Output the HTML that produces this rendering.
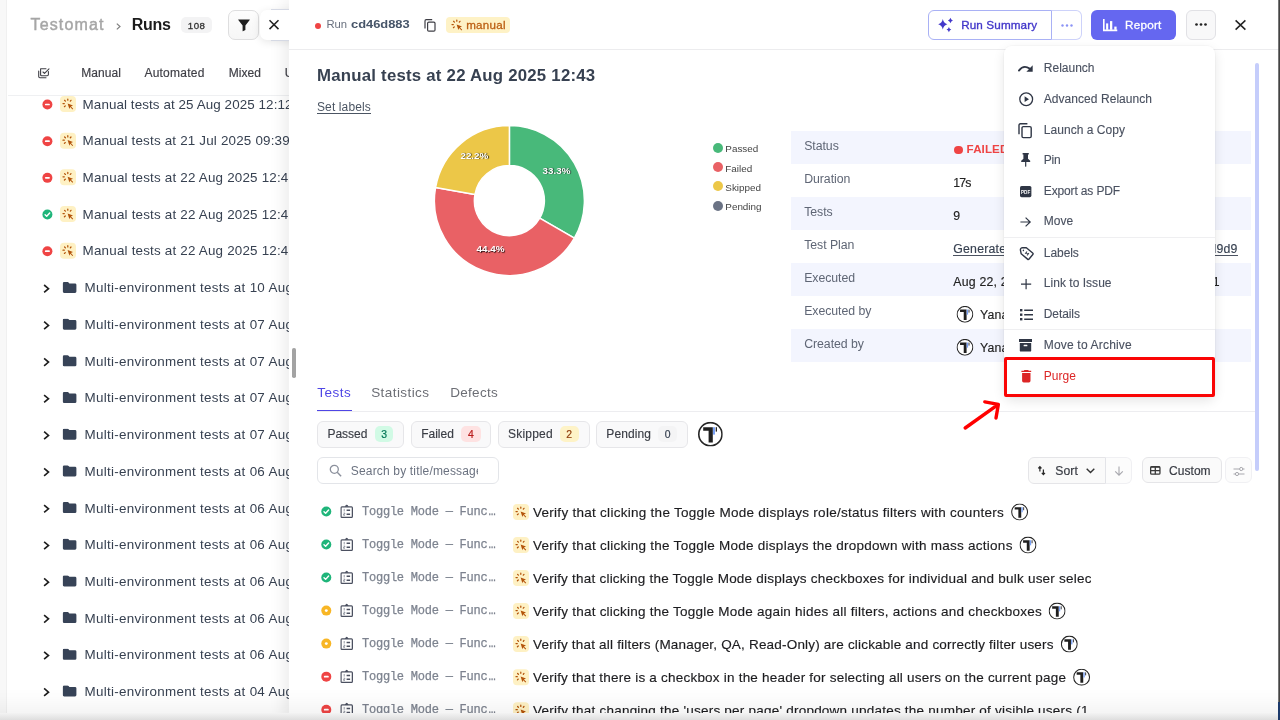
<!DOCTYPE html>
<html>
<head>
<meta charset="utf-8">
<title>Run</title>
<style>
*{box-sizing:border-box;margin:0;padding:0}
html,body{width:1280px;height:720px;overflow:hidden;background:#fff}
body{font-family:"Liberation Sans",sans-serif;color:#374151;position:relative;font-size:13px}
.abs{position:absolute}
.t{position:absolute;white-space:nowrap;line-height:1}
svg{position:absolute;overflow:visible}
/* left strip */
#strip{left:0;top:0;width:7px;height:720px;background:#f8f8f8;border-right:1px solid #f0f0f0}
/* left panel */
#left{left:8px;top:0;width:282px;height:720px;background:#fff;overflow:hidden}
#left .t{color:#374151}
.lrow{position:absolute;left:0;width:282px;height:20px}
.lrow .txt{position:absolute;left:74.6px;top:-0.2px;font-size:13.4px;line-height:20px;white-space:nowrap;color:#374151;letter-spacing:0.17px}
.lrow .ftxt{position:absolute;left:76.5px;top:0.35px;font-size:13.4px;line-height:20px;white-space:nowrap;color:#374151;letter-spacing:0.3px}
.dot{position:absolute;width:10px;height:10px;border-radius:50%}
.dot.red{background:#ef4444}
.dot.green{background:#22b573}
.dot.yellow{background:#f5b324}
.dot.red:after{content:"";position:absolute;left:2.5px;top:4.1px;width:5px;height:1.8px;background:#fff;border-radius:0.9px}
.mbox{position:absolute;width:16px;height:16px;border-radius:4px;background:#fef1c4}
/* right panel */
#right{left:289px;top:0;width:991px;height:720px;background:#fff;box-shadow:-6px 0 14px rgba(0,0,0,0.07)}
#hdr{left:0;top:0;width:991px;height:50px;border-bottom:1px solid #ececee}
.btn{position:absolute;border:1px solid #d9dade;border-radius:6px;background:#fafafa}
.trow{position:absolute;left:502px;width:460px;height:33px}
.trow.alt{background:#f3f5fe}
.trow .k{position:absolute;left:13px;top:8px;font-size:13px;line-height:16px;color:#52586a}
.trow .v{position:absolute;left:162px;top:9px;font-size:12.5px;line-height:16px;color:#1f2937}
.chip{position:absolute;top:421px;height:26px;border:1px solid #e6e6e9;border-radius:6px;background:#f9f9fa}
.chip .l{position:absolute;left:10px;top:5px;font-size:13px;line-height:15px;color:#374151}
.chip .n{position:absolute;top:4px;height:17px;width:19px;border-radius:4px;font-size:11px;line-height:17px;text-align:center}
.test{position:absolute;left:0;width:991px;height:20px}
.test .mono{position:absolute;left:72px;top:2px;font-family:"Liberation Mono",monospace;font-size:12.2px;line-height:16px;color:#7b8190;white-space:pre;letter-spacing:-0.28px}
.test .ttl{position:absolute;left:243px;top:0;font-size:14.4px;line-height:20px;color:#1f2430;white-space:nowrap;letter-spacing:-0.12px}
/* menu */
#menu{left:1004.3px;top:45.5px;width:211px;height:351.5px;background:#fff;border-radius:8px;box-shadow:0 4px 12px rgba(0,0,0,0.10),0 0 0 1px rgba(0,0,0,0.025)}
.mi{position:absolute;left:39px;font-size:13px;line-height:16px;color:#4a5160;-webkit-text-stroke:0.12px #4a5160;white-space:nowrap}
</style>
</head>
<body>
<svg width="0" height="0" style="position:absolute"><defs>
<symbol id="man" viewBox="0 0 16 16"><g stroke="#b4540a" stroke-width="1.25" stroke-linecap="round" fill="none"><path d="M7.8 3 V4.2 M4.6 4.3 L5.4 5.1 M3 7.5 H4.3 M4.4 10.7 L5.3 9.9 M11 4.3 L10.3 5.1"/></g><path d="M7.6 7.4 L13 9.4 L10.9 10.4 L13.2 12.7 L12.5 13.4 L10.2 11.1 L9.4 13.1 Z" fill="#b4540a"/></symbol>
<symbol id="chev" viewBox="0 0 8 10"><path d="M1.5 1.3 L5.9 5 L1.5 8.7" fill="none" stroke="#1f1f1f" stroke-width="1.65"/></symbol>
<symbol id="fold" viewBox="0 0 15 12"><path d="M1.8 0.3 H5.2 Q5.8 0.3 6.2 0.8 L7 1.7 H12.6 Q14 1.7 14 3.1 V9.9 Q14 11.3 12.6 11.3 H1.8 Q0.4 11.3 0.4 9.9 V1.7 Q0.4 0.3 1.8 0.3Z" fill="#374357"/></symbol>
<symbol id="tav" viewBox="0 0 24.8 24.8"><circle cx="12.4" cy="12.4" r="11.6" fill="#fff" stroke="#262626" stroke-width="1.6"/><path d="M5.2 5.4 H14.8 V20.7 H10.6 V8.9 H5.2Z" fill="#1f1f1f"/><rect x="15" y="5.4" width="2" height="7.4" fill="#7aa2f7"/><rect x="17.7" y="5.4" width="1.3" height="4.4" fill="#262626"/></symbol>
<symbol id="clip" viewBox="0 0 14 16"><rect x="0.85" y="2.8" width="11.3" height="10.5" rx="0.9" fill="none" stroke="#4b5060" stroke-width="1.25"/><path d="M4.6 2.8 L5.6 1.1 Q6.5 0.2 7.4 1.1 L8.4 2.8Z" fill="#4b5060"/><path d="M6.4 6.3 H9.9 M6.4 10.2 H9.9" stroke="#4b5060" stroke-width="1.5" fill="none"/><path d="M4 4.9 V7.4 M3.4 9 H4.6 V10.1 H3.4 V11.3 H4.7" stroke="#7a7f8c" stroke-width="0.8" fill="none"/></symbol>
</defs></svg>
<div id="all" class="abs" style="left:0;top:0;width:1280px;height:720px;will-change:transform">
<div id="strip" class="abs"></div>
<div id="left" class="abs">
<div class="t" style="left:22.5px;top:15px;font-size:16px;line-height:19px;color:#a6a6a6;letter-spacing:1.15px;-webkit-text-stroke:0.45px #a6a6a6">Testomat</div>
<svg style="left:107.5px;top:22.5px" width="5" height="7" viewBox="0 0 5 7"><path d="M0.8 0.6 L4 3.5 L0.8 6.4" fill="none" stroke="#808080" stroke-width="1.2"/></svg>
<div class="t" style="left:123.7px;top:15px;font-size:16px;line-height:19px;color:#1c1c1c;font-weight:700;letter-spacing:-0.3px">Runs</div>
<div class="abs" style="left:173.2px;top:16.8px;width:30.8px;height:16.1px;border-radius:5px;background:#f3f3f4"></div>
<div class="t" style="left:179.8px;top:19.6px;font-size:9.7px;line-height:11px;color:#333;-webkit-text-stroke:0.3px #333;letter-spacing:0.5px">108</div>
<div class="abs" style="left:220.2px;top:10px;width:30.4px;height:30px;border:1px solid #dededf;border-radius:7px;background:linear-gradient(#fdfdfd,#f6f6f6)"></div>
<svg style="left:229.5px;top:18.7px" width="12" height="12.5" viewBox="0 0 12 12.5"><path d="M0.4 0.5 H11.6 Q12 0.5 11.7 1 L7.4 6.4 V11 L4.9 12.2 Q4.6 12.3 4.6 12 V6.4 L0.3 1 Q0 0.5 0.4 0.5Z" fill="#1f1f1f"/></svg>
<!-- tabs -->
<svg style="left:29.5px;top:67.5px" width="12" height="11" viewBox="0 0 12 11"><path d="M2.6 0.8 H8 M10.4 3.6 V6.6 Q10.4 7.8 9.2 7.8 H3.6 Q2.6 7.8 2.6 6.8 V0.8 M5 4 L6.5 5.4 L11 0.9 M0.7 3 V8.6 Q0.7 9.8 1.9 9.8 H8" fill="none" stroke="#3f3f46" stroke-width="1.1" stroke-linejoin="round" stroke-linecap="round"/></svg>
<div class="t" style="left:73.2px;top:66px;font-size:12px;line-height:14px;-webkit-text-stroke:0.18px #3f3f46;color:#3f3f46;letter-spacing:0.05px">Manual</div>
<div class="t" style="left:136.4px;top:66px;font-size:12px;line-height:14px;-webkit-text-stroke:0.18px #3f3f46;color:#3f3f46;letter-spacing:0.24px">Automated</div>
<div class="t" style="left:220.7px;top:66px;font-size:12px;line-height:14px;-webkit-text-stroke:0.18px #3f3f46;color:#3f3f46;letter-spacing:0.08px">Mixed</div>
<div class="t" style="left:276.8px;top:66px;font-size:12px;line-height:14px;-webkit-text-stroke:0.18px #3f3f46;color:#3f3f46">Unfinished</div>
<div class="abs" style="left:0;top:95px;width:282px;height:1px;background:#eff0f2"></div>
<svg style="left:34px;top:99px" width="12" height="12"><g transform="translate(0.40 0.50) scale(1.0000 1.0000)"><circle cx="5" cy="5" r="5" fill="#ef4444"/><rect x="2.5" y="4.15" width="5" height="1.7" rx="0.85" fill="#fff"/></g></svg>
<svg style="left:52px;top:96px" width="17" height="17"><g transform="translate(0.00 0.00) scale(1.0000 1.0000)"><rect x="0" y="0" width="16" height="16" rx="4" fill="#fef1c4"/><use href="#man" x="0" y="0" width="16" height="16"/></g></svg>
<div class="lrow" style="top:94.7px"><div class="txt" style="letter-spacing:0.09px">Manual tests at 25 Aug 2025 12:12</div></div>
<svg style="left:34px;top:136px" width="12" height="12"><g transform="translate(0.40 0.18) scale(1.0000 1.0000)"><circle cx="5" cy="5" r="5" fill="#ef4444"/><rect x="2.5" y="4.15" width="5" height="1.7" rx="0.85" fill="#fff"/></g></svg>
<svg style="left:52px;top:132px" width="17" height="18"><g transform="translate(0.00 0.68) scale(1.0000 1.0000)"><rect x="0" y="0" width="16" height="16" rx="4" fill="#fef1c4"/><use href="#man" x="0" y="0" width="16" height="16"/></g></svg>
<div class="lrow" style="top:131.4px"><div class="txt" style="letter-spacing:0.19px">Manual tests at 21 Jul 2025 09:39</div></div>
<svg style="left:34px;top:172px" width="12" height="12"><g transform="translate(0.40 0.86) scale(1.0000 1.0000)"><circle cx="5" cy="5" r="5" fill="#ef4444"/><rect x="2.5" y="4.15" width="5" height="1.7" rx="0.85" fill="#fff"/></g></svg>
<svg style="left:52px;top:169px" width="17" height="18"><g transform="translate(0.00 0.36) scale(1.0000 1.0000)"><rect x="0" y="0" width="16" height="16" rx="4" fill="#fef1c4"/><use href="#man" x="0" y="0" width="16" height="16"/></g></svg>
<div class="lrow" style="top:168.1px"><div class="txt" style="letter-spacing:0.2px">Manual tests at 22 Aug 2025 12:43</div></div>
<svg style="left:34px;top:209px" width="12" height="12"><g transform="translate(0.40 0.54) scale(1.0000 1.0000)"><circle cx="5" cy="5" r="5" fill="#1fb57a"/><path d="M2.7 5.2 L4.3 6.8 L7.3 3.5" fill="none" stroke="#fff" stroke-width="1.4" stroke-linecap="round" stroke-linejoin="round"/></g></svg>
<svg style="left:52px;top:206px" width="17" height="18"><g transform="translate(0.00 0.04) scale(1.0000 1.0000)"><rect x="0" y="0" width="16" height="16" rx="4" fill="#fef1c4"/><use href="#man" x="0" y="0" width="16" height="16"/></g></svg>
<div class="lrow" style="top:204.7px"><div class="txt" style="letter-spacing:0.2px">Manual tests at 22 Aug 2025 12:43</div></div>
<svg style="left:34px;top:246px" width="12" height="12"><g transform="translate(0.40 0.22) scale(1.0000 1.0000)"><circle cx="5" cy="5" r="5" fill="#ef4444"/><rect x="2.5" y="4.15" width="5" height="1.7" rx="0.85" fill="#fff"/></g></svg>
<svg style="left:52px;top:242px" width="17" height="18"><g transform="translate(0.00 0.72) scale(1.0000 1.0000)"><rect x="0" y="0" width="16" height="16" rx="4" fill="#fef1c4"/><use href="#man" x="0" y="0" width="16" height="16"/></g></svg>
<div class="lrow" style="top:241.4px"><div class="txt" style="letter-spacing:0.2px">Manual tests at 22 Aug 2025 12:43</div></div>
<svg style="left:34px;top:283px" width="10" height="12"><g transform="translate(0.60 0.70) scale(1.0000 1.0000)"><use href="#chev" x="0" y="0" width="8" height="10"/></g></svg>
<svg style="left:54px;top:281px" width="17" height="14"><g transform="translate(0.40 0.70) scale(1.0000 1.0000)"><use href="#fold" x="0" y="0" width="15" height="12"/></g></svg>
<div class="lrow" style="top:278.1px"><div class="ftxt">Multi-environment tests at 10 Aug 2025</div></div>
<svg style="left:34px;top:320px" width="10" height="12"><g transform="translate(0.60 0.38) scale(1.0000 1.0000)"><use href="#chev" x="0" y="0" width="8" height="10"/></g></svg>
<svg style="left:54px;top:318px" width="17" height="14"><g transform="translate(0.40 0.38) scale(1.0000 1.0000)"><use href="#fold" x="0" y="0" width="15" height="12"/></g></svg>
<div class="lrow" style="top:314.8px"><div class="ftxt">Multi-environment tests at 07 Aug 2025</div></div>
<svg style="left:34px;top:357px" width="10" height="12"><g transform="translate(0.60 0.06) scale(1.0000 1.0000)"><use href="#chev" x="0" y="0" width="8" height="10"/></g></svg>
<svg style="left:54px;top:355px" width="17" height="14"><g transform="translate(0.40 0.06) scale(1.0000 1.0000)"><use href="#fold" x="0" y="0" width="15" height="12"/></g></svg>
<div class="lrow" style="top:351.5px"><div class="ftxt">Multi-environment tests at 07 Aug 2025</div></div>
<svg style="left:34px;top:393px" width="10" height="12"><g transform="translate(0.60 0.74) scale(1.0000 1.0000)"><use href="#chev" x="0" y="0" width="8" height="10"/></g></svg>
<svg style="left:54px;top:391px" width="17" height="14"><g transform="translate(0.40 0.74) scale(1.0000 1.0000)"><use href="#fold" x="0" y="0" width="15" height="12"/></g></svg>
<div class="lrow" style="top:388.1px"><div class="ftxt">Multi-environment tests at 07 Aug 2025</div></div>
<svg style="left:34px;top:430px" width="10" height="12"><g transform="translate(0.60 0.42) scale(1.0000 1.0000)"><use href="#chev" x="0" y="0" width="8" height="10"/></g></svg>
<svg style="left:54px;top:428px" width="17" height="14"><g transform="translate(0.40 0.42) scale(1.0000 1.0000)"><use href="#fold" x="0" y="0" width="15" height="12"/></g></svg>
<div class="lrow" style="top:424.8px"><div class="ftxt">Multi-environment tests at 07 Aug 2025</div></div>
<svg style="left:34px;top:467px" width="10" height="12"><g transform="translate(0.60 0.10) scale(1.0000 1.0000)"><use href="#chev" x="0" y="0" width="8" height="10"/></g></svg>
<svg style="left:54px;top:465px" width="17" height="14"><g transform="translate(0.40 0.10) scale(1.0000 1.0000)"><use href="#fold" x="0" y="0" width="15" height="12"/></g></svg>
<div class="lrow" style="top:461.5px"><div class="ftxt">Multi-environment tests at 06 Aug 2025</div></div>
<svg style="left:34px;top:503px" width="10" height="12"><g transform="translate(0.60 0.78) scale(1.0000 1.0000)"><use href="#chev" x="0" y="0" width="8" height="10"/></g></svg>
<svg style="left:54px;top:501px" width="17" height="14"><g transform="translate(0.40 0.78) scale(1.0000 1.0000)"><use href="#fold" x="0" y="0" width="15" height="12"/></g></svg>
<div class="lrow" style="top:498.2px"><div class="ftxt">Multi-environment tests at 06 Aug 2025</div></div>
<svg style="left:34px;top:540px" width="10" height="12"><g transform="translate(0.60 0.46) scale(1.0000 1.0000)"><use href="#chev" x="0" y="0" width="8" height="10"/></g></svg>
<svg style="left:54px;top:538px" width="17" height="14"><g transform="translate(0.40 0.46) scale(1.0000 1.0000)"><use href="#fold" x="0" y="0" width="15" height="12"/></g></svg>
<div class="lrow" style="top:534.9px"><div class="ftxt">Multi-environment tests at 06 Aug 2025</div></div>
<svg style="left:34px;top:577px" width="10" height="12"><g transform="translate(0.60 0.14) scale(1.0000 1.0000)"><use href="#chev" x="0" y="0" width="8" height="10"/></g></svg>
<svg style="left:54px;top:575px" width="17" height="14"><g transform="translate(0.40 0.14) scale(1.0000 1.0000)"><use href="#fold" x="0" y="0" width="15" height="12"/></g></svg>
<div class="lrow" style="top:571.5px"><div class="ftxt">Multi-environment tests at 06 Aug 2025</div></div>
<svg style="left:34px;top:613px" width="10" height="12"><g transform="translate(0.60 0.82) scale(1.0000 1.0000)"><use href="#chev" x="0" y="0" width="8" height="10"/></g></svg>
<svg style="left:54px;top:611px" width="17" height="14"><g transform="translate(0.40 0.82) scale(1.0000 1.0000)"><use href="#fold" x="0" y="0" width="15" height="12"/></g></svg>
<div class="lrow" style="top:608.2px"><div class="ftxt">Multi-environment tests at 06 Aug 2025</div></div>
<svg style="left:34px;top:650px" width="10" height="12"><g transform="translate(0.60 0.50) scale(1.0000 1.0000)"><use href="#chev" x="0" y="0" width="8" height="10"/></g></svg>
<svg style="left:54px;top:648px" width="17" height="14"><g transform="translate(0.40 0.50) scale(1.0000 1.0000)"><use href="#fold" x="0" y="0" width="15" height="12"/></g></svg>
<div class="lrow" style="top:644.9px"><div class="ftxt">Multi-environment tests at 06 Aug 2025</div></div>
<svg style="left:34px;top:687px" width="10" height="12"><g transform="translate(0.60 0.18) scale(1.0000 1.0000)"><use href="#chev" x="0" y="0" width="8" height="10"/></g></svg>
<svg style="left:54px;top:685px" width="17" height="14"><g transform="translate(0.40 0.18) scale(1.0000 1.0000)"><use href="#fold" x="0" y="0" width="15" height="12"/></g></svg>
<div class="lrow" style="top:681.6px"><div class="ftxt">Multi-environment tests at 04 Aug 2025</div></div>
</div>
<div id="right" class="abs">
<div id="hdr" class="abs"></div>
</div>
<div class="abs" style="left:0;top:0;width:289.3px;height:60px;overflow:hidden">
<div class="abs" style="left:259.5px;top:10px;width:40px;height:30px;border-radius:7px;background:#fff;box-shadow:0 2px 8px rgba(0,0,0,0.10)"></div>
<div class="abs" style="left:271px;top:9.3px;width:20px;height:31.6px;border-top:1px solid #d5d9e4;border-bottom:1px solid #d5d9e4"></div>
<svg style="left:269.1px;top:20.3px" width="10" height="9.4" viewBox="0 0 10 9.4"><path d="M0.5 0.3 L9.5 9.1 M9.5 0.3 L0.5 9.1" stroke="#222" stroke-width="1.5" fill="none"/></svg>
</div>
<div class="abs" style="left:292.1px;top:348.2px;width:3.6px;height:29.8px;border-radius:1.8px;background:#a3a3a3"></div>
<div id="rc" class="abs" style="left:0;top:0;width:1280px;height:720px">
<!-- header -->
<div class="abs" style="left:315px;top:22.7px;width:6px;height:6px;border-radius:50%;background:#ef4444"></div>
<div class="t" style="left:326.4px;top:18.2px;font-size:11.3px;line-height:13px;color:#6b7280;letter-spacing:-0.1px">Run</div>
<div class="t" style="left:350.7px;top:18.2px;font-size:11.4px;line-height:13px;color:#475569;font-weight:700;transform:scaleX(1.13);transform-origin:0 0">cd46d883</div>
<svg style="left:424px;top:18.5px" width="12" height="13" viewBox="0 0 12 13"><path d="M8.2 0.7 H2.2 Q1 0.7 1 1.9 V9.6" fill="none" stroke="#3f3f46" stroke-width="1.2"/><rect x="3.6" y="3.1" width="7.4" height="9" rx="1.2" fill="none" stroke="#3f3f46" stroke-width="1.2"/></svg>
<div class="abs" style="left:446px;top:16.7px;width:64px;height:16px;border-radius:4px;background:#fef2c6"></div>
<svg style="left:449px;top:16.7px" width="16" height="16" viewBox="0 0 16 16"><use href="#man"/></svg>
<div class="t" style="left:466.2px;top:18px;font-size:11.6px;line-height:13px;color:#bb5e12;-webkit-text-stroke:0.3px #bb5e12;letter-spacing:0.25px">manual</div>
<!-- run summary -->
<div class="abs" style="left:928px;top:10px;width:124px;height:29.5px;border:1px solid #a9b1f5;border-radius:6px 0 0 6px;background:#fff"></div>
<div class="abs" style="left:1051px;top:10px;width:30.5px;height:29.5px;border:1px solid #cdd2fa;border-left:1px solid #a9b1f5;border-radius:0 6px 6px 0;background:#fff"></div>
<svg style="left:938px;top:18px" width="16" height="15" viewBox="0 0 16 15"><path d="M4.80 1.05 Q5.72 5.21 9.40 6.25 Q5.72 7.29 4.80 11.45 Q3.88 7.29 0.20 6.25 Q3.88 5.21 4.80 1.05Z M12.40 -0.20 Q12.95 1.91 14.90 2.50 Q12.95 3.09 12.40 5.20 Q11.85 3.09 9.90 2.50 Q11.85 1.91 12.40 -0.20Z M10.90 9.00 Q11.43 11.03 13.30 11.60 Q11.43 12.17 10.90 14.20 Q10.37 12.17 8.50 11.60 Q10.37 11.03 10.90 9.00Z" fill="#4338ca"/></svg>
<div class="t" style="left:961.2px;top:18.2px;font-size:11.7px;line-height:14px;color:#4338ca;-webkit-text-stroke:0.35px #4338ca;letter-spacing:0.12px">Run Summary</div>
<svg style="left:1060.5px;top:23.5px" width="12" height="3" viewBox="0 0 12 3"><circle cx="1.5" cy="1.5" r="1.2" fill="#8b93f5"/><circle cx="6" cy="1.5" r="1.2" fill="#8b93f5"/><circle cx="10.5" cy="1.5" r="1.2" fill="#8b93f5"/></svg>
<!-- report -->
<div class="abs" style="left:1091px;top:10px;width:85px;height:29.5px;border-radius:6px;background:#6567f0"></div>
<svg style="left:1102.6px;top:18.8px" width="14.4" height="12.2" viewBox="0 0 14.4 12.2"><path d="M0.8 0 V11.4 H14.3" fill="none" stroke="#fff" stroke-width="1.6"/><rect x="3.1" y="4.4" width="2.1" height="6.4" fill="#fff"/><rect x="7" y="2.1" width="2.3" height="8.7" fill="#fff"/><rect x="11.3" y="7.6" width="2.3" height="3.2" fill="#fff"/></svg>
<div class="t" style="left:1125px;top:18.2px;font-size:11.7px;line-height:14px;color:#fff;-webkit-text-stroke:0.3px #fff;letter-spacing:0.25px">Report</div>
<div class="abs" style="left:1185.5px;top:10px;width:30px;height:29.5px;border:1px solid #e1e1e5;border-radius:6px;background:#f8f8f9"></div>
<svg style="left:1194.5px;top:23.3px" width="12" height="3" viewBox="0 0 12 3"><circle cx="1.5" cy="1.5" r="1.35" fill="#222"/><circle cx="6" cy="1.5" r="1.35" fill="#222"/><circle cx="10.5" cy="1.5" r="1.35" fill="#222"/></svg>
<svg style="left:1235px;top:20px" width="11" height="10" viewBox="0 0 11 10"><path d="M0.6 0.4 L10.4 9.6 M10.4 0.4 L0.6 9.6" stroke="#222" stroke-width="1.5" fill="none"/></svg>
<!-- title -->
<div class="t" style="left:317px;top:66.3px;font-size:16.8px;line-height:20px;color:#374151;font-weight:700;letter-spacing:0.23px">Manual tests at 22 Aug 2025 12:43</div>
<div class="t" style="left:317px;top:99.5px;font-size:12px;line-height:14px;color:#4b5563;letter-spacing:0.12px">Set labels</div>
<div class="abs" style="left:317px;top:113px;width:54px;height:1px;background:#4b5563"></div>
<svg style="left:0;top:0" width="1280" height="720" viewBox="0 0 1280 720">
<path d="M509.40 125.60 A75 75 0 0 1 574.35 238.10 L539.71 218.10 A35 35 0 0 0 509.40 165.60Z" fill="#48b97a" stroke="#fff" stroke-width="1.5" stroke-linejoin="round"/>
<path d="M574.35 238.10 A75 75 0 0 1 435.54 187.58 L474.93 194.52 A35 35 0 0 0 539.71 218.10Z" fill="#e96165" stroke="#fff" stroke-width="1.5" stroke-linejoin="round"/>
<path d="M435.54 187.58 A75 75 0 0 1 509.40 125.60 L509.40 165.60 A35 35 0 0 0 474.93 194.52Z" fill="#ecc748" stroke="#fff" stroke-width="1.5" stroke-linejoin="round"/>
<text x="556.6" y="173.6" text-anchor="middle" font-family="Liberation Sans" font-weight="700" font-size="9.9" fill="#fff" style="text-shadow:0.8px 0.8px 1px rgba(0,0,0,0.8)">33.3%</text>
<text x="490.6" y="252" text-anchor="middle" font-family="Liberation Sans" font-weight="700" font-size="9.9" fill="#fff" style="text-shadow:0.8px 0.8px 1px rgba(0,0,0,0.8)">44.4%</text>
<text x="474.4" y="158.7" text-anchor="middle" font-family="Liberation Sans" font-weight="700" font-size="9.9" fill="#fff" style="text-shadow:0.8px 0.8px 1px rgba(0,0,0,0.8)">22.2%</text>
</svg>
<div class="abs" style="left:712.7px;top:142.6px;width:10px;height:10px;border-radius:50%;background:#48b97a"></div>
<div class="t" style="left:725.3px;top:0;transform:translateY(143.40px);font-size:9.9px;line-height:11px;color:#444">Passed</div>
<div class="abs" style="left:712.7px;top:161.9px;width:10px;height:10px;border-radius:50%;background:#e96165"></div>
<div class="t" style="left:725.3px;top:0;transform:translateY(162.73px);font-size:9.9px;line-height:11px;color:#444">Failed</div>
<div class="abs" style="left:712.7px;top:181.3px;width:10px;height:10px;border-radius:50%;background:#ecc748"></div>
<div class="t" style="left:725.3px;top:0;transform:translateY(182.06px);font-size:9.9px;line-height:11px;color:#444">Skipped</div>
<div class="abs" style="left:712.7px;top:200.6px;width:10px;height:10px;border-radius:50%;background:#6b7385"></div>
<div class="t" style="left:725.3px;top:0;transform:translateY(201.39px);font-size:9.9px;line-height:11px;color:#444">Pending</div>
<div class="trow alt" style="left:791px;top:131px"></div>
<div class="t" style="left:804.2px;top:138.9px;font-size:12.3px;line-height:14px;color:#5f6675;letter-spacing:-0.05px">Status</div>
<div class="abs" style="left:954.3px;top:145.7px;width:8.4px;height:8.4px;border-radius:50%;background:#ef4444"></div>
<div class="t" style="left:966.6px;top:142.2px;font-size:11.6px;line-height:13px;color:#ef4444;font-weight:700;letter-spacing:0.1px">FAILED</div>
<div class="trow" style="left:791px;top:164px"></div>
<div class="t" style="left:804.2px;top:171.9px;font-size:12.3px;line-height:14px;color:#5f6675;letter-spacing:-0.05px">Duration</div>
<div class="t" style="left:953.3px;top:176.3px;font-size:12.3px;line-height:14px;-webkit-text-stroke:0.15px currentColor;color:#222;letter-spacing:-0.9px">17s</div>
<div class="trow alt" style="left:791px;top:197px"></div>
<div class="t" style="left:804.2px;top:204.9px;font-size:12.3px;line-height:14px;color:#5f6675;letter-spacing:-0.05px">Tests</div>
<div class="t" style="left:953.3px;top:209.3px;font-size:12.3px;line-height:14px;-webkit-text-stroke:0.15px currentColor;color:#222">9</div>
<div class="trow" style="left:791px;top:230px"></div>
<div class="t" style="left:804.2px;top:237.9px;font-size:12.3px;line-height:14px;color:#5f6675;letter-spacing:-0.05px">Test Plan</div>
<div class="t" style="left:953.3px;top:242.3px;font-size:12.3px;line-height:14px;-webkit-text-stroke:0.15px currentColor;color:#374151;letter-spacing:0.2px">Generated plan for run cd4</div>
<div class="abs" style="left:953.3px;top:255.2px;width:285px;height:1.2px;background:#4b5261"></div>
<div class="t" style="left:1213.6px;top:242.3px;font-size:12.3px;line-height:14px;-webkit-text-stroke:0.15px currentColor;color:#374151;letter-spacing:0.2px">l9d9</div>
<div class="trow alt" style="left:791px;top:263px"></div>
<div class="t" style="left:804.2px;top:270.9px;font-size:12.3px;line-height:14px;color:#5f6675;letter-spacing:-0.05px">Executed</div>
<div class="t" style="left:953.3px;top:275.3px;font-size:12.3px;line-height:14px;-webkit-text-stroke:0.15px currentColor;color:#222;letter-spacing:0.2px">Aug 22, 2025 12:43</div>
<div class="t" style="left:1212.8px;top:275.3px;font-size:12.3px;line-height:14px;-webkit-text-stroke:0.15px currentColor;color:#222">1</div>
<div class="trow" style="left:791px;top:296px"></div>
<div class="t" style="left:804.2px;top:303.9px;font-size:12.3px;line-height:14px;color:#5f6675;letter-spacing:-0.05px">Executed by</div>
<svg style="left:956px;top:305px" width="19" height="19"><g transform="translate(0.50 0.90) scale(0.6815 0.6815)"><use href="#tav" x="0" y="0" width="24.8" height="24.8"/></g></svg>
<div class="t" style="left:980px;top:308.3px;font-size:12.3px;line-height:14px;-webkit-text-stroke:0.15px currentColor;color:#222;letter-spacing:0.2px">Yana</div>
<div class="trow alt" style="left:791px;top:329px"></div>
<div class="t" style="left:804.2px;top:336.9px;font-size:12.3px;line-height:14px;color:#5f6675;letter-spacing:-0.05px">Created by</div>
<svg style="left:956px;top:338px" width="19" height="19"><g transform="translate(0.50 0.90) scale(0.6815 0.6815)"><use href="#tav" x="0" y="0" width="24.8" height="24.8"/></g></svg>
<div class="t" style="left:980px;top:341.3px;font-size:12.3px;line-height:14px;-webkit-text-stroke:0.15px currentColor;color:#222;letter-spacing:0.2px">Yana</div>
<div class="t" style="left:317.2px;top:384.5px;font-size:13.5px;line-height:16px;color:#4f46e5;letter-spacing:0.5px">Tests</div>
<div class="t" style="left:371.2px;top:384.5px;font-size:13.5px;line-height:16px;color:#6c6e75;letter-spacing:0.42px">Statistics</div>
<div class="t" style="left:450.2px;top:384.5px;font-size:13.5px;line-height:16px;color:#6c6e75;letter-spacing:0.3px">Defects</div>
<div class="abs" style="left:317px;top:410.7px;width:938px;height:1px;background:#ededf0"></div>
<div class="abs" style="left:317px;top:409.7px;width:34.5px;height:1.8px;background:#4f46e5"></div>
<div class="chip" style="left:316.6px;width:87.9px;top:421.2px;height:26.5px"></div>
<div class="t" style="left:327.4px;top:427.3px;font-size:12px;line-height:14px;color:#3a3d45;-webkit-text-stroke:0.15px #3a3d45;letter-spacing:0px">Passed</div>
<div class="abs" style="left:374.8px;top:426.1px;width:18.7px;height:16.1px;border-radius:5px;background:#d1fae5"></div>
<div class="t" style="left:374.8px;width:18.7px;text-align:center;top:429px;font-size:10.4px;line-height:11px;color:#047857;-webkit-text-stroke:0.2px #047857">3</div>
<div class="chip" style="left:411.1px;width:80.1px;top:421.2px;height:26.5px"></div>
<div class="t" style="left:421.2px;top:427.3px;font-size:12px;line-height:14px;color:#3a3d45;-webkit-text-stroke:0.15px #3a3d45;letter-spacing:0px">Failed</div>
<div class="abs" style="left:461.1px;top:426.1px;width:19.5px;height:16.1px;border-radius:5px;background:#fee2e2"></div>
<div class="t" style="left:461.1px;width:19.5px;text-align:center;top:429px;font-size:10.4px;line-height:11px;color:#b91c1c;-webkit-text-stroke:0.2px #b91c1c">4</div>
<div class="chip" style="left:498.2px;width:91.4px;top:421.2px;height:26.5px"></div>
<div class="t" style="left:508px;top:427.3px;font-size:12px;line-height:14px;color:#3a3d45;-webkit-text-stroke:0.15px #3a3d45;letter-spacing:0.2px">Skipped</div>
<div class="abs" style="left:559.5px;top:426.1px;width:19.5px;height:16.1px;border-radius:5px;background:#fef3c7"></div>
<div class="t" style="left:559.5px;width:19.5px;text-align:center;top:429px;font-size:10.4px;line-height:11px;color:#92400e;-webkit-text-stroke:0.2px #92400e">2</div>
<div class="chip" style="left:595.9px;width:92.5px;top:421.2px;height:26.5px"></div>
<div class="t" style="left:606.3px;top:427.3px;font-size:12px;line-height:14px;color:#3a3d45;-webkit-text-stroke:0.15px #3a3d45;letter-spacing:0.1px">Pending</div>
<div class="abs" style="left:658.4px;top:426.1px;width:18.5px;height:16.1px;border-radius:5px;background:#f4f4f5"></div>
<div class="t" style="left:658.4px;width:18.5px;text-align:center;top:429px;font-size:10.4px;line-height:11px;color:#374151;-webkit-text-stroke:0.2px #374151">0</div>
<svg style="left:698px;top:421px" width="26" height="27"><g transform="translate(0.00 0.80) scale(1.0000 1.0000)"><use href="#tav" x="0" y="0" width="24.8" height="24.8"/></g></svg>
<div class="abs" style="left:316.8px;top:457.1px;width:181.8px;height:26.5px;border:1px solid #e3e5e9;border-radius:6px;background:#fff"></div>
<svg style="left:328.8px;top:464.2px" width="13" height="13" viewBox="0 0 12 12"><circle cx="4.9" cy="4.9" r="3.7" fill="none" stroke="#8b909c" stroke-width="1.2"/><path d="M7.6 7.6 L11.2 11.2" stroke="#8b909c" stroke-width="1.3"/></svg>
<div class="abs" style="left:350.8px;top:463px;width:126.8px;height:16px;overflow:hidden"><div class="t" style="left:0;top:0.5px;font-size:12px;line-height:14px;color:#6b7280;letter-spacing:0.17px">Search by title/message</div></div>
<div class="abs" style="left:1028px;top:457.1px;width:78px;height:26.6px;border:1px solid #e5e5e8;border-radius:6px 0 0 6px;background:#fafafa"></div>
<div class="abs" style="left:1105px;top:457.1px;width:27px;height:26.6px;border:1px solid #f0f0f3;border-left:1px solid #e3e4e8;border-radius:0 6px 6px 0;background:#fcfcfc"></div>
<svg style="left:1037.8px;top:466.2px" width="7.4" height="9.2" viewBox="0 0 7.4 9.2"><path d="M1.9 5.6 V0.7 M0.3 2.4 L1.9 0.7 L3.5 2.4 M5.4 3.6 V8.6 M3.8 6.9 L5.4 8.6 L7 6.9" fill="none" stroke="#2a2a2a" stroke-width="1.25"/></svg>
<div class="t" style="left:1055.2px;top:463.8px;font-size:12.2px;line-height:14px;color:#3a3d45;-webkit-text-stroke:0.2px #3a3d45;letter-spacing:0.1px">Sort</div>
<svg style="left:1086px;top:468.4px" width="9" height="6" viewBox="0 0 9 6"><path d="M0.7 0.8 L4.5 4.6 L8.3 0.8" fill="none" stroke="#333" stroke-width="1.4"/></svg>
<svg style="left:1113.5px;top:466px" width="10" height="10" viewBox="0 0 10 10"><path d="M5 0.4 V9 M1.2 5.4 L5 9.2 L8.8 5.4" fill="none" stroke="#a8a8ae" stroke-width="1.1"/></svg>
<div class="abs" style="left:1142px;top:457.1px;width:80px;height:26.3px;border:1px solid #e5e5e8;border-radius:6px;background:#fafafa"></div>
<svg style="left:1150.1px;top:466.2px" width="10.6" height="8.8" viewBox="0 0 10.6 8.8"><rect x="0.65" y="0.65" width="9.3" height="7.5" rx="1" fill="none" stroke="#3a3a3a" stroke-width="1.3"/><path d="M0.6 1.1 H10 M0.6 4.6 H10 M5.3 1.4 V8.2" stroke="#3a3a3a" stroke-width="1.3" fill="none"/></svg>
<div class="t" style="left:1169.1px;top:463.8px;font-size:12px;line-height:14px;color:#3a3d45;-webkit-text-stroke:0.2px #3a3d45;letter-spacing:0.03px">Custom</div>
<div class="abs" style="left:1225.3px;top:457.1px;width:26.4px;height:26.3px;border:1px solid #f0f0f3;border-radius:6px;background:#fcfcfc"></div>
<svg style="left:1232.5px;top:465.5px" width="12" height="11" viewBox="0 0 12 11"><path d="M0.5 3 H6.6 M9.8 3 H11.5 M0.5 8 H2.4 M5.6 8 H11.5" stroke="#a8a8ae" stroke-width="1" fill="none"/><circle cx="8.2" cy="3" r="1.6" fill="none" stroke="#a8a8ae" stroke-width="1"/><circle cx="4" cy="8" r="1.6" fill="none" stroke="#a8a8ae" stroke-width="1"/></svg>
<div class="abs" style="left:1255.1px;top:63px;width:4.2px;height:407.5px;border-radius:2.1px;background:#c5cdfb"></div>
<svg style="left:321px;top:506px" width="12" height="12"><g transform="translate(0.30 0.50) scale(1.0000 1.0000)"><circle cx="5" cy="5" r="5" fill="#1fb57a"/><path d="M2.7 5.2 L4.3 6.8 L7.3 3.5" fill="none" stroke="#fff" stroke-width="1.4" stroke-linecap="round" stroke-linejoin="round"/></g></svg>
<svg style="left:340px;top:504px" width="16" height="17"><g transform="translate(0.20 0.00) scale(1.0000 1.0000)"><use href="#clip" x="0" y="0" width="14" height="16"/></g></svg>
<div class="t" style="left:362px;top:504.8px;font-family:'Liberation Mono',monospace;font-size:12px;line-height:14px;color:#7d838f;-webkit-text-stroke:0.25px #7d838f;letter-spacing:-0.23px;white-space:pre">Toggle Mode — Func<span style="margin-left:0.9px">…</span></div>
<svg style="left:513px;top:504px" width="17" height="17"><g transform="translate(0.00 0.00) scale(1.0000 1.0000)"><rect x="0" y="0" width="16" height="16" rx="4" fill="#fef1c4"/><use href="#man" x="0" y="0" width="16" height="16"/></g></svg>
<div class="abs" style="left:533px;top:502.0px;width:557.5px;height:20px;overflow:hidden"><div class="t" style="left:0;top:2.9px;font-size:13.5px;line-height:16px;color:#1c1c1f;-webkit-text-stroke:0.15px #1c1c1f;letter-spacing:0.276px">Verify that clicking the Toggle Mode displays role/status filters with counters</div></div>
<svg style="left:1011px;top:503px" width="19" height="19"><g transform="translate(0.10 0.50) scale(0.6855 0.6855)"><use href="#tav" x="0" y="0" width="24.8" height="24.8"/></g></svg>
<svg style="left:321px;top:539px" width="12" height="12"><g transform="translate(0.30 0.53) scale(1.0000 1.0000)"><circle cx="5" cy="5" r="5" fill="#1fb57a"/><path d="M2.7 5.2 L4.3 6.8 L7.3 3.5" fill="none" stroke="#fff" stroke-width="1.4" stroke-linecap="round" stroke-linejoin="round"/></g></svg>
<svg style="left:340px;top:537px" width="16" height="18"><g transform="translate(0.20 0.03) scale(1.0000 1.0000)"><use href="#clip" x="0" y="0" width="14" height="16"/></g></svg>
<div class="t" style="left:362px;top:537.8px;font-family:'Liberation Mono',monospace;font-size:12px;line-height:14px;color:#7d838f;-webkit-text-stroke:0.25px #7d838f;letter-spacing:-0.23px;white-space:pre">Toggle Mode — Func<span style="margin-left:0.9px">…</span></div>
<svg style="left:513px;top:537px" width="17" height="18"><g transform="translate(0.00 0.03) scale(1.0000 1.0000)"><rect x="0" y="0" width="16" height="16" rx="4" fill="#fef1c4"/><use href="#man" x="0" y="0" width="16" height="16"/></g></svg>
<div class="abs" style="left:533px;top:535.0px;width:557.5px;height:20px;overflow:hidden"><div class="t" style="left:0;top:2.9px;font-size:13.5px;line-height:16px;color:#1c1c1f;-webkit-text-stroke:0.15px #1c1c1f;letter-spacing:0.262px">Verify that clicking the Toggle Mode displays the dropdown with mass actions</div></div>
<svg style="left:1019px;top:536px" width="19" height="19"><g transform="translate(0.50 0.53) scale(0.6855 0.6855)"><use href="#tav" x="0" y="0" width="24.8" height="24.8"/></g></svg>
<svg style="left:321px;top:572px" width="12" height="12"><g transform="translate(0.30 0.56) scale(1.0000 1.0000)"><circle cx="5" cy="5" r="5" fill="#1fb57a"/><path d="M2.7 5.2 L4.3 6.8 L7.3 3.5" fill="none" stroke="#fff" stroke-width="1.4" stroke-linecap="round" stroke-linejoin="round"/></g></svg>
<svg style="left:340px;top:570px" width="16" height="18"><g transform="translate(0.20 0.06) scale(1.0000 1.0000)"><use href="#clip" x="0" y="0" width="14" height="16"/></g></svg>
<div class="t" style="left:362px;top:570.9px;font-family:'Liberation Mono',monospace;font-size:12px;line-height:14px;color:#7d838f;-webkit-text-stroke:0.25px #7d838f;letter-spacing:-0.23px;white-space:pre">Toggle Mode — Func<span style="margin-left:0.9px">…</span></div>
<svg style="left:513px;top:570px" width="17" height="18"><g transform="translate(0.00 0.06) scale(1.0000 1.0000)"><rect x="0" y="0" width="16" height="16" rx="4" fill="#fef1c4"/><use href="#man" x="0" y="0" width="16" height="16"/></g></svg>
<div class="abs" style="left:533px;top:568.1px;width:557.5px;height:20px;overflow:hidden"><div class="t" style="left:0;top:2.9px;font-size:13.5px;line-height:16px;color:#1c1c1f;-webkit-text-stroke:0.15px #1c1c1f;letter-spacing:0.221px">Verify that clicking the Toggle Mode displays checkboxes for individual and bulk user selection</div></div>
<svg style="left:321px;top:605px" width="12" height="12"><g transform="translate(0.30 0.59) scale(1.0000 1.0000)"><circle cx="5" cy="5" r="5" fill="#f8b625"/><circle cx="5" cy="5" r="1.45" fill="#fff"/></g></svg>
<svg style="left:340px;top:603px" width="16" height="18"><g transform="translate(0.20 0.09) scale(1.0000 1.0000)"><use href="#clip" x="0" y="0" width="14" height="16"/></g></svg>
<div class="t" style="left:362px;top:603.9px;font-family:'Liberation Mono',monospace;font-size:12px;line-height:14px;color:#7d838f;-webkit-text-stroke:0.25px #7d838f;letter-spacing:-0.23px;white-space:pre">Toggle Mode — Func<span style="margin-left:0.9px">…</span></div>
<svg style="left:513px;top:603px" width="17" height="18"><g transform="translate(0.00 0.09) scale(1.0000 1.0000)"><rect x="0" y="0" width="16" height="16" rx="4" fill="#fef1c4"/><use href="#man" x="0" y="0" width="16" height="16"/></g></svg>
<div class="abs" style="left:533px;top:601.1px;width:557.5px;height:20px;overflow:hidden"><div class="t" style="left:0;top:2.9px;font-size:13.5px;line-height:16px;color:#1c1c1f;-webkit-text-stroke:0.15px #1c1c1f;letter-spacing:0.237px">Verify that clicking the Toggle Mode again hides all filters, actions and checkboxes</div></div>
<svg style="left:1048px;top:602px" width="19" height="19"><g transform="translate(0.60 0.59) scale(0.6855 0.6855)"><use href="#tav" x="0" y="0" width="24.8" height="24.8"/></g></svg>
<svg style="left:321px;top:638px" width="12" height="12"><g transform="translate(0.30 0.62) scale(1.0000 1.0000)"><circle cx="5" cy="5" r="5" fill="#f8b625"/><circle cx="5" cy="5" r="1.45" fill="#fff"/></g></svg>
<svg style="left:340px;top:636px" width="16" height="18"><g transform="translate(0.20 0.12) scale(1.0000 1.0000)"><use href="#clip" x="0" y="0" width="14" height="16"/></g></svg>
<div class="t" style="left:362px;top:636.9px;font-family:'Liberation Mono',monospace;font-size:12px;line-height:14px;color:#7d838f;-webkit-text-stroke:0.25px #7d838f;letter-spacing:-0.23px;white-space:pre">Toggle Mode — Func<span style="margin-left:0.9px">…</span></div>
<svg style="left:513px;top:636px" width="17" height="18"><g transform="translate(0.00 0.12) scale(1.0000 1.0000)"><rect x="0" y="0" width="16" height="16" rx="4" fill="#fef1c4"/><use href="#man" x="0" y="0" width="16" height="16"/></g></svg>
<div class="abs" style="left:533px;top:634.1px;width:557.5px;height:20px;overflow:hidden"><div class="t" style="left:0;top:2.9px;font-size:13.5px;line-height:16px;color:#1c1c1f;-webkit-text-stroke:0.15px #1c1c1f;letter-spacing:0.194px">Verify that all filters (Manager, QA, Read-Only) are clickable and correctly filter users</div></div>
<svg style="left:1060px;top:635px" width="19" height="19"><g transform="translate(0.80 0.62) scale(0.6855 0.6855)"><use href="#tav" x="0" y="0" width="24.8" height="24.8"/></g></svg>
<svg style="left:321px;top:671px" width="12" height="12"><g transform="translate(0.30 0.65) scale(1.0000 1.0000)"><circle cx="5" cy="5" r="5" fill="#ef4444"/><rect x="2.5" y="4.15" width="5" height="1.7" rx="0.85" fill="#fff"/></g></svg>
<svg style="left:340px;top:669px" width="16" height="18"><g transform="translate(0.20 0.15) scale(1.0000 1.0000)"><use href="#clip" x="0" y="0" width="14" height="16"/></g></svg>
<div class="t" style="left:362px;top:669.9px;font-family:'Liberation Mono',monospace;font-size:12px;line-height:14px;color:#7d838f;-webkit-text-stroke:0.25px #7d838f;letter-spacing:-0.23px;white-space:pre">Toggle Mode — Func<span style="margin-left:0.9px">…</span></div>
<svg style="left:513px;top:669px" width="17" height="18"><g transform="translate(0.00 0.15) scale(1.0000 1.0000)"><rect x="0" y="0" width="16" height="16" rx="4" fill="#fef1c4"/><use href="#man" x="0" y="0" width="16" height="16"/></g></svg>
<div class="abs" style="left:533px;top:667.1px;width:557.5px;height:20px;overflow:hidden"><div class="t" style="left:0;top:2.9px;font-size:13.5px;line-height:16px;color:#1c1c1f;-webkit-text-stroke:0.15px #1c1c1f;letter-spacing:0.216px">Verify that there is a checkbox in the header for selecting all users on the current page</div></div>
<svg style="left:1073px;top:668px" width="19" height="19"><g transform="translate(0.10 0.65) scale(0.6855 0.6855)"><use href="#tav" x="0" y="0" width="24.8" height="24.8"/></g></svg>
<svg style="left:321px;top:704px" width="12" height="12"><g transform="translate(0.30 0.68) scale(1.0000 1.0000)"><circle cx="5" cy="5" r="5" fill="#ef4444"/><rect x="2.5" y="4.15" width="5" height="1.7" rx="0.85" fill="#fff"/></g></svg>
<svg style="left:340px;top:702px" width="16" height="18"><g transform="translate(0.20 0.18) scale(1.0000 1.0000)"><use href="#clip" x="0" y="0" width="14" height="16"/></g></svg>
<div class="t" style="left:362px;top:703.0px;font-family:'Liberation Mono',monospace;font-size:12px;line-height:14px;color:#7d838f;-webkit-text-stroke:0.25px #7d838f;letter-spacing:-0.23px;white-space:pre">Toggle Mode — Func<span style="margin-left:0.9px">…</span></div>
<svg style="left:513px;top:702px" width="17" height="18"><g transform="translate(0.00 0.18) scale(1.0000 1.0000)"><rect x="0" y="0" width="16" height="16" rx="4" fill="#fef1c4"/><use href="#man" x="0" y="0" width="16" height="16"/></g></svg>
<div class="abs" style="left:533px;top:700.2px;width:557.5px;height:20px;overflow:hidden"><div class="t" style="left:0;top:2.9px;font-size:13.5px;line-height:16px;color:#1c1c1f;-webkit-text-stroke:0.15px #1c1c1f;letter-spacing:0.224px">Verify that changing the 'users per page' dropdown updates the number of visible users (1</div></div>
</div>
<div id="menu" class="abs">
<div class="mi" style="left:39.5px;top:15.9px;font-size:12px;line-height:14px;letter-spacing:0px">Relaunch</div>
<div class="mi" style="left:39.5px;top:46.6px;font-size:12px;line-height:14px;letter-spacing:0.05px">Advanced Relaunch</div>
<div class="mi" style="left:39.5px;top:77.6px;font-size:12px;line-height:14px;letter-spacing:0.04px">Launch a Copy</div>
<div class="mi" style="left:39.5px;top:107.8px;font-size:12px;line-height:14px;letter-spacing:-0.2px">Pin</div>
<div class="mi" style="left:39.5px;top:138.8px;font-size:12px;line-height:14px;letter-spacing:-0.14px">Export as PDF</div>
<div class="mi" style="left:39.5px;top:168.6px;font-size:12px;line-height:14px;letter-spacing:0px">Move</div>
<div class="mi" style="left:39.5px;top:200.6px;font-size:12px;line-height:14px;letter-spacing:-0.06px">Labels</div>
<div class="mi" style="left:39.5px;top:230.6px;font-size:12px;line-height:14px;letter-spacing:0.03px">Link to Issue</div>
<div class="mi" style="left:39.5px;top:261.6px;font-size:12px;line-height:14px;letter-spacing:-0.1px">Details</div>
<div class="mi" style="left:39.5px;top:292.6px;font-size:12px;line-height:14px;letter-spacing:0.18px">Move to Archive</div>
<div class="abs" style="left:0;top:191.7px;width:211px;height:1px;background:#efeff1"></div>
<div class="abs" style="left:0;top:283.7px;width:211px;height:1px;background:#efeff1"></div>
<svg style="left:14.2px;top:18.3px" width="15" height="8" viewBox="0 0 15 8"><path d="M0.9 6.6 Q5.6 0.3 11.6 4.6" fill="none" stroke="#2f3645" stroke-width="1.8" stroke-linecap="round"/><path d="M14.7 1.2 V7.8 H8.4 Z" fill="#2f3645"/></svg>
<svg style="left:14.4px;top:46.6px" width="14.4" height="14.4" viewBox="0 0 14.4 14.4"><circle cx="7.2" cy="7.2" r="6.4" fill="none" stroke="#2f3645" stroke-width="1.3"/><path d="M5.6 4.3 L10 7.2 L5.6 10.1Z" fill="#2f3645"/></svg>
<svg style="left:14.2px;top:77.3px" width="14" height="15.5" viewBox="0 0 14 15.5"><path d="M9.4 0.8 H2.4 Q1 0.8 1 2.2 V11.2" fill="none" stroke="#2f3645" stroke-width="1.4"/><rect x="4" y="3.6" width="9.2" height="11" rx="1.3" fill="none" stroke="#2f3645" stroke-width="1.4"/></svg>
<svg style="left:16.5px;top:107.9px" width="9.4" height="13.8" viewBox="0 0 9.4 13.8"><path d="M1.6 0 H7.8 V1.4 H7 V5.8 L9.2 7.8 V9 H5.3 V13.6 L4.7 13.8 L4.1 13.6 V9 H0.2 V7.8 L2.4 5.8 V1.4 H1.6Z" fill="#2f3645"/></svg>
<svg style="left:15.7px;top:140.1px" width="11.4" height="11.2" viewBox="0 0 11.4 11.2"><rect x="0" y="0" width="11.4" height="11.2" rx="1.6" fill="#2f3645"/><text x="5.7" y="7.6" text-anchor="middle" font-family="Liberation Sans" font-weight="700" font-size="4.6" fill="#fff" letter-spacing="0.1">PDF</text></svg>
<svg style="left:15.5px;top:171.3px" width="11" height="10" viewBox="0 0 11 10"><path d="M0.4 5 H10 M5.6 0.6 L10.2 5 L5.6 9.4" fill="none" stroke="#2f3645" stroke-width="1.2"/></svg>
<svg style="left:14.3px;top:200.5px" width="14.6" height="14" viewBox="0 0 14.6 14"><g transform="rotate(40 7.3 7)"><path d="M0.9 5.3 L3.9 2.9 H12.2 Q13.3 2.9 13.3 4 V9.8 Q13.3 10.9 12.2 10.9 H3.9 L0.9 8.5 Q0.2 7.9 0.2 6.9 Q0.2 5.9 0.9 5.3Z" fill="none" stroke="#2f3645" stroke-width="1.4" stroke-linejoin="round"/><circle cx="3.4" cy="6.9" r="0.75" fill="#2f3645"/><path d="M6.9 5.4 V8.4 M9.4 5.4 V8.4 M6.9 6.9 H9.4" stroke="#2f3645" stroke-width="0.95" fill="none"/></g></svg>
<svg style="left:16.6px;top:233px" width="10.2" height="10.2" viewBox="0 0 10.2 10.2"><path d="M5.1 0 V10.2 M0 5.1 H10.2" stroke="#2f3645" stroke-width="1.2" fill="none"/></svg>
<svg style="left:15.3px;top:263.2px" width="13" height="11.4" viewBox="0 0 13 11.4"><rect x="0" y="0" width="2.4" height="2.4" fill="#2f3645"/><rect x="0" y="4.5" width="2.4" height="2.4" fill="#2f3645"/><rect x="0" y="9" width="2.4" height="2.4" fill="#2f3645"/><path d="M4.2 1.2 H13 M4.2 5.7 H13 M4.2 10.2 H13" stroke="#2f3645" stroke-width="1.4" fill="none"/></svg>
<svg style="left:15.0px;top:293.5px" width="13" height="12.6" viewBox="0 0 13 12.6"><rect x="0" y="0" width="13" height="3" fill="#2f3645"/><path d="M0.8 3.9 H12.2 V11.4 Q12.2 12.6 11 12.6 H2 Q0.8 12.6 0.8 11.4Z" fill="#2f3645"/><rect x="4.6" y="5.8" width="3.8" height="1.4" rx="0.5" fill="#fff"/></svg>
</div>
<div class="abs" style="left:1004.2px;top:357.3px;width:211px;height:40px;border:3px solid #fa0505;border-radius:2px;background:#fff"></div>
<svg style="left:1020.5px;top:369.6px" width="10.6" height="12.4" viewBox="0 0 10.6 12.4"><path d="M3.4 0 H7.2 L7.8 0.7 H10.2 V2 H0.4 V0.7 H2.8Z M1.1 2.9 H9.5 V10.8 Q9.5 12.4 7.9 12.4 H2.7 Q1.1 12.4 1.1 10.8Z" fill="#dc2626"/></svg>
<div class="t" style="left:1043.8px;top:369.3px;font-size:12px;line-height:14px;color:#dc2626">Purge</div>
<svg style="left:0;top:0" width="1280" height="720" viewBox="0 0 1280 720"><path d="M965.2 428 L997.6 404.9 M984.8 401.9 L998.4 404.3 L996 418" fill="none" stroke="#ff0000" stroke-width="3.4" stroke-linecap="round" stroke-linejoin="round"/></svg>
<div class="abs" style="left:0;top:688px;width:1280px;height:25.5px;background:linear-gradient(rgba(0,0,0,0),rgba(0,0,0,0.012) 40%,rgba(0,0,0,0.042))"></div>
<div class="abs" style="left:0;top:713.2px;width:1280px;height:6.8px;background:linear-gradient(#f3f3f3,#dedede)"></div>
<div class="abs" style="left:1278.2px;top:0;width:1.8px;height:720px;background:linear-gradient(90deg,rgba(70,70,70,0.45),#444 50%)"></div>
<div class="abs" style="left:1278.2px;top:702px;width:1.8px;height:18px;background:#1d3a6b"></div>
</div>
</body>
</html>
